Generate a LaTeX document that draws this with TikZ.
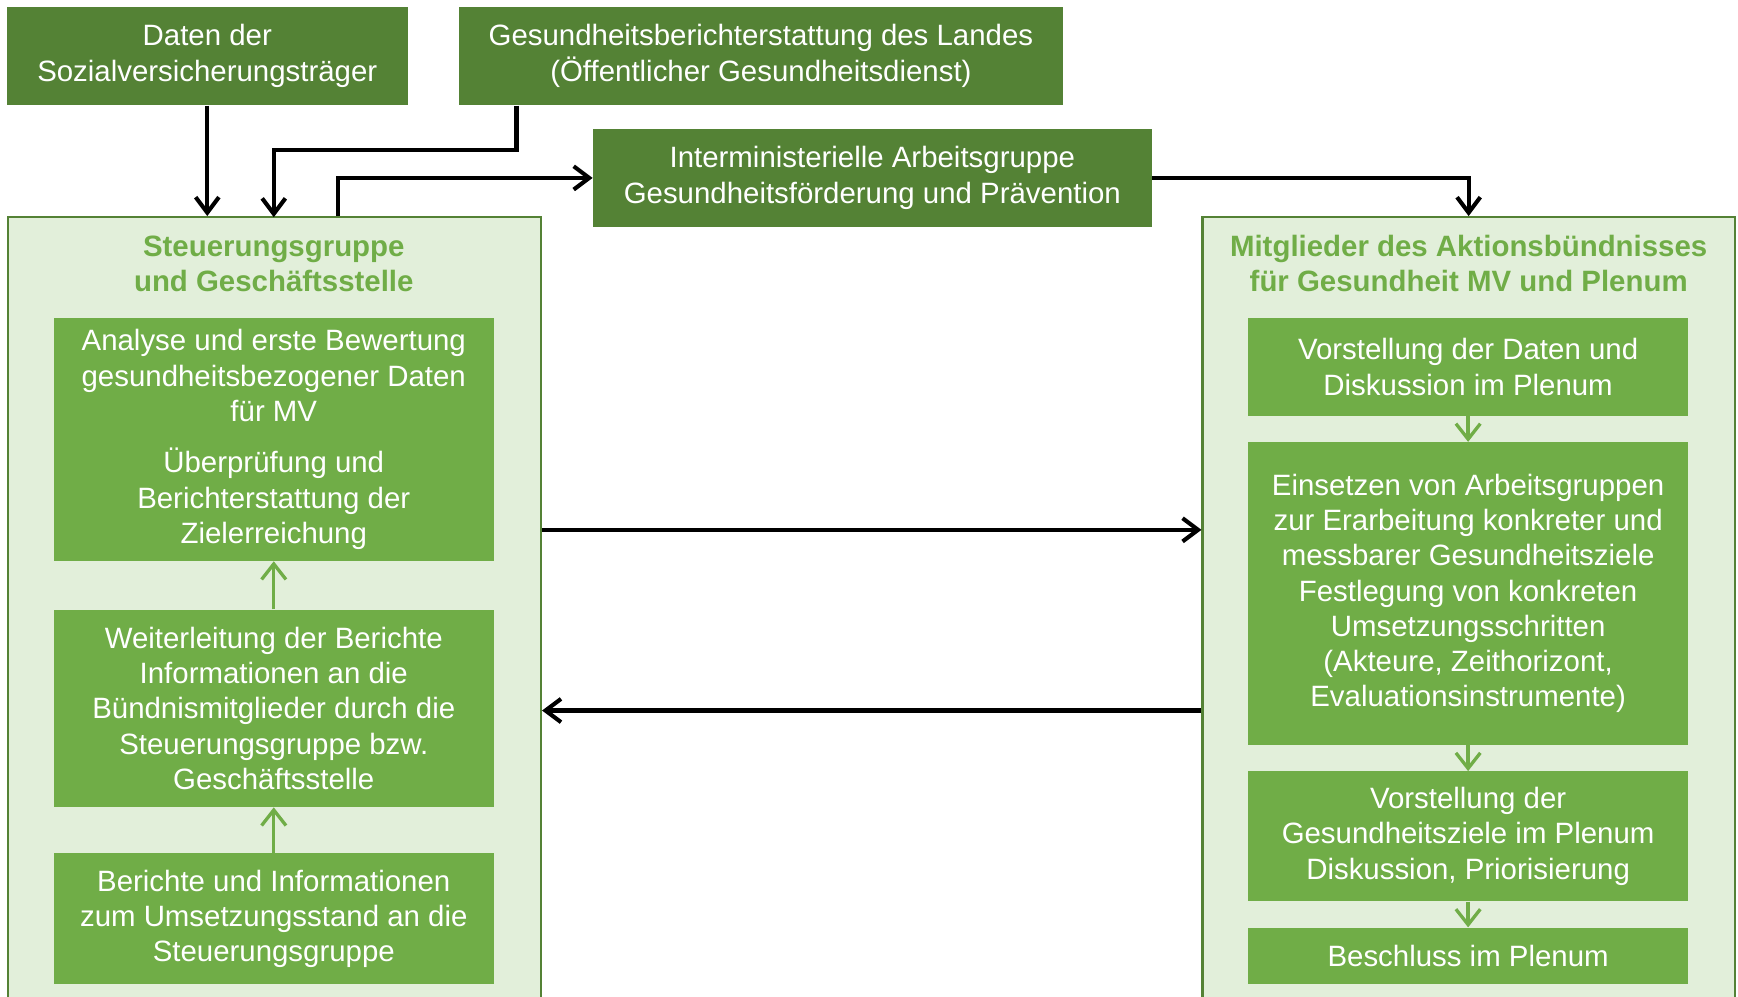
\documentclass[tikz,border=0pt]{standalone}
\usepackage{fontspec}
\setmainfont{Liberation Sans}
\usepackage{xcolor}
\usetikzlibrary{arrows.meta}

\definecolor{darkgreen}{HTML}{548235}
\definecolor{midgreen}{HTML}{70AD47}
\definecolor{lightgreen}{HTML}{E2EFDA}

\newcommand{\boxfont}{\fontsize{15.1}{18.1}\selectfont}

\tikzset{
    darkbox/.style={fill=darkgreen, text=white, align=center, minimum height=1.78cm, inner sep=0pt, font=\boxfont},
    stepbox/.style={fill=midgreen, text=white, align=center, minimum width=7.93cm, inner sep=0pt, font=\boxfont},
    groupbox/.style={fill=lightgreen, draw=darkgreen, line width=1.2pt, minimum height=14.2cm, inner sep=0pt},
    grouptitle/.style={text=midgreen, align=center, font=\boxfont\bfseries},
    conn/.style={line width=2.1pt, -{Straight Barb[length=0.28cm, width=0.42cm]}},
    flow/.style={midgreen, line width=1.7pt, -{Straight Barb[length=0.28cm, width=0.44cm]}}
}

\begin{document}
\begin{tikzpicture}
    \useasboundingbox (0,0) rectangle (31.36,-17.98);
    \clip (0,0) rectangle (31.36,-17.98);

    % sources at the top
    \node[darkbox, minimum width=7.24cm] (daten) at (3.74,-1.01) {Daten der\\Sozialversicherungsträger};
    \node[darkbox, minimum width=10.90cm] (bericht) at (13.73,-1.01) {Gesundheitsberichterstattung des Landes\\(Öffentlicher Gesundheitsdienst)};
    \node[darkbox, minimum width=10.08cm] (imag) at (15.74,-3.21) {Interministerielle Arbeitsgruppe\\Gesundheitsförderung und Prävention};

    % left group
    \node[groupbox, minimum width=9.62cm] (steer) at (4.95,-11.02) {};
    \node[grouptitle] (steertitle) at (4.94,-4.76) {Steuerungsgruppe\\und Geschäftsstelle};
    \node[stepbox, minimum height=4.38cm] (analyse) at (4.94,-7.93) {Analyse und erste Bewertung\\gesundheitsbezogener Daten\\für MV\\[0.29cm]Überprüfung und\\Berichterstattung der\\Zielerreichung};
    \node[stepbox, minimum height=3.56cm] (weiter) at (4.94,-12.78) {Weiterleitung der Berichte\\Informationen an die\\Bündnismitglieder durch die\\Steuerungsgruppe bzw.\\Geschäftsstelle};
    \node[stepbox, minimum height=2.36cm] (berichte) at (4.94,-16.58) {Berichte und Informationen\\zum Umsetzungsstand an die\\Steuerungsgruppe};

    % right group
    \node[groupbox, minimum width=9.60cm] (mitglieder) at (26.50,-11.02) {};
    \node[grouptitle] (mitgltitle) at (26.50,-4.76) {Mitglieder des Aktionsbündnisses\\für Gesundheit MV und Plenum};
    \node[stepbox, minimum height=1.76cm] (vorst) at (26.49,-6.62) {Vorstellung der Daten und\\Diskussion im Plenum};
    \node[stepbox, minimum height=5.46cm] (einsetzen) at (26.49,-10.71) {Einsetzen von Arbeitsgruppen\\zur Erarbeitung konkreter und\\messbarer Gesundheitsziele\\Festlegung von konkreten\\Umsetzungsschritten\\(Akteure, Zeithorizont,\\Evaluationsinstrumente)};
    \node[stepbox, minimum height=2.34cm] (ziele) at (26.49,-15.09) {Vorstellung der\\Gesundheitsziele im Plenum\\Diskussion, Priorisierung};
    \node[stepbox, minimum height=1.02cm] (beschluss) at (26.49,-17.25) {Beschluss im Plenum};

    % green steps
    \draw[flow] (berichte) -- (weiter);
    \draw[flow] (weiter) -- (analyse);
    \draw[flow] (vorst) -- (einsetzen);
    \draw[flow] (einsetzen) -- (ziele);
    \draw[flow] (ziele) -- (beschluss);

    % black connectors
    \draw[conn] (daten.south) -- (daten.south |- steer.north);
    \draw[conn] ([xshift=-4.41cm]bericht.south) |- (4.94,-2.70) -- (4.94,-3.92);
    \draw[conn] ([xshift=1.15cm]steer.north) |- (imag.west);
    \draw[conn] (imag.east) -| (mitglieder.north);
    \draw[conn] ([yshift=1.46cm]steer.east) -- ([yshift=1.46cm]mitglieder.west);
    \draw[conn] ([yshift=-1.80cm]mitglieder.west) -- ([yshift=-1.80cm]steer.east);
\end{tikzpicture}
\end{document}
